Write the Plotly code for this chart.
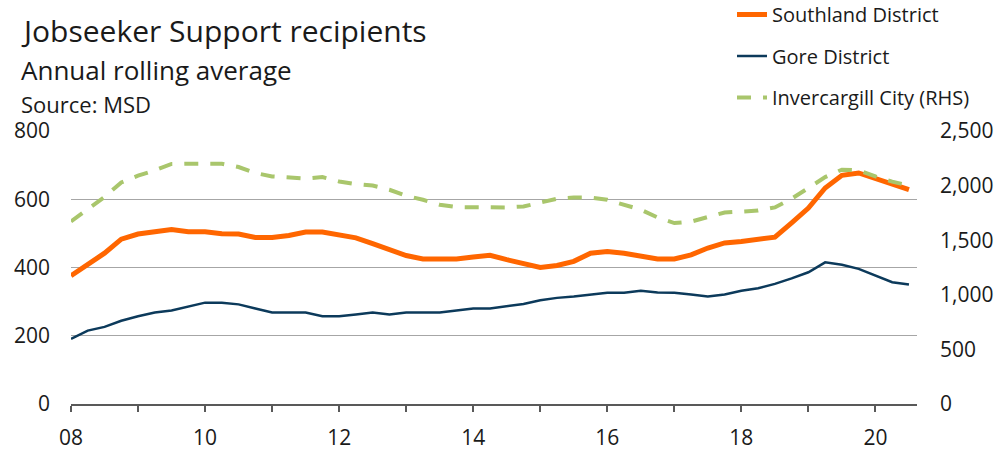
import plotly.graph_objects as go

# Quarterly, Mar-2008 .. Jun-2020
quarters = [2008 + 0.25 * i for i in range(51)]

southland = [376, 408, 442, 483, 498, 505, 511, 505, 505, 499,
             498, 488, 488, 494, 504, 504, 494, 487, 470, 452,
             435, 425, 425, 425, 431, 436, 423, 413, 400, 406,
             418, 442, 447, 442, 435, 425, 425, 437, 457, 472,
             476, 481, 489, 531, 574, 633, 670, 677, 660, 644,
             628]

gore = [191, 215, 226, 244, 257, 268, 274, 286, 297, 297,
        292, 280, 268, 268, 268, 257, 257, 262, 268, 262,
        268, 268, 268, 274, 280, 280, 286, 293, 304, 311,
        315, 321, 326, 326, 332, 327, 326, 321, 315, 321,
        332, 339, 352, 368, 386, 415, 408, 396, 376, 357,
        350]

invercargill = [1672, 1785, 1896, 2029, 2091, 2140, 2198, 2200, 2200, 2200,
                2170, 2115, 2084, 2072, 2065, 2078, 2038, 2014, 2000, 1962,
                1907, 1870, 1825, 1803, 1800, 1800, 1800, 1809, 1840, 1880,
                1890, 1890, 1870, 1825, 1779, 1708, 1657, 1670, 1712, 1754,
                1762, 1772, 1800, 1880, 1978, 2078, 2146, 2140, 2084, 2036,
                2000]

xtick_vals = [2008, 2010, 2012, 2014, 2016, 2018, 2020]
xtick_text = ["08", "10", "12", "14", "16", "18", "20"]

FONT = "Open Sans"
TXT = "#1a1a1a"

fig = go.Figure()
fig.add_trace(go.Scatter(x=quarters, y=southland, name="Southland District",
                         mode="lines", line=dict(color="#ff6600", width=5),
                         legendgroup="a"))
fig.add_trace(go.Scatter(x=quarters, y=gore, name="Gore District",
                         mode="lines", line=dict(color="#0c3a5b", width=2.5),
                         legendgroup="b"))
fig.add_trace(go.Scatter(x=quarters, y=invercargill, name="Invercargill City (RHS)",
                         mode="lines", yaxis="y2",
                         line=dict(color="#a9c66c", width=4, dash="14px,12px"),
                         legendgroup="c"))

def px_x(px):
    return (px - 71) / 846

def px_y(py):
    return (404 - py) / 273

fig.update_layout(
    width=996, height=463,
    margin=dict(l=71, r=79, t=131, b=59, autoexpand=False),
    paper_bgcolor="white", plot_bgcolor="white",
    font=dict(family=FONT, size=20, color=TXT),
    showlegend=True,
    legend=dict(x=px_x(732), xanchor="left", y=px_y(-5), yanchor="top",
                font=dict(size=20, color=TXT), tracegroupgap=12.5,
                bgcolor="rgba(0,0,0,0)", borderwidth=0),
    xaxis=dict(range=[2008, 2020.62], tickvals=xtick_vals, ticktext=xtick_text,
               ticks="outside", ticklen=6, tickcolor="#595959", tickwidth=1.5,
               showline=True, linecolor="#595959", linewidth=1.5,
               showgrid=False, zeroline=False, automargin=False,
               minor=dict(dtick=1, tick0=2008, ticks="outside", ticklen=6,
                          tickcolor="#595959", tickwidth=1.5, showgrid=False),
               ticklabelstandoff=8, tickfont=dict(size=21)),
    yaxis=dict(range=[0, 800], dtick=200, showgrid=True, gridcolor="#a6a6a6",
               gridwidth=1, zeroline=False, showline=False, ticks="",
               automargin=False,
               ticklabelstandoff=20, tickfont=dict(size=21)),
    yaxis2=dict(range=[0, 2500], dtick=500, overlaying="y", side="right",
                showgrid=False, zeroline=False, showline=False, ticks="",
                automargin=False,
                tickformat=",", ticklabelstandoff=22, tickfont=dict(size=21)),
)

fig.add_annotation(text="Jobseeker Support recipients", x=px_x(19), y=px_y(30),
                   xref="paper", yref="paper", xanchor="left", yanchor="middle",
                   showarrow=False, font=dict(size=30, color=TXT, family=FONT))
fig.add_annotation(text="Annual rolling average", x=px_x(19), y=px_y(70),
                   xref="paper", yref="paper", xanchor="left", yanchor="middle",
                   showarrow=False, font=dict(size=26, color=TXT, family=FONT))
fig.add_annotation(text="Source: MSD", x=px_x(19), y=px_y(104),
                   xref="paper", yref="paper", xanchor="left", yanchor="middle",
                   showarrow=False, font=dict(size=22, color=TXT, family=FONT))

fig.write_html("out.html", config={"displayModeBar": False},
               post_script="document.body.style.margin='0';")
